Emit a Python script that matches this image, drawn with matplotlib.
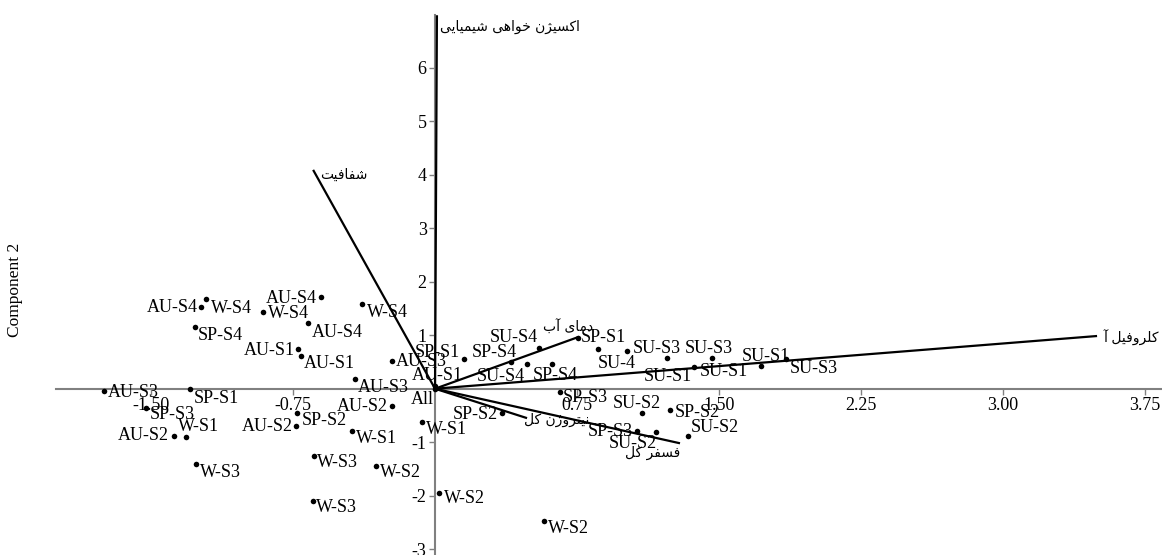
import matplotlib
matplotlib.use('Agg')
import matplotlib.pyplot as plt

plt.rcParams['font.family'] = ['Liberation Serif', 'DejaVu Sans']
plt.rcParams['axes.unicode_minus'] = False

# variable loadings (arrows)
var_names = ['اکسیژن خواهی شیمیایی', 'شفافیت', 'دمای آب', 'کلروفیل آ', 'نیتروژن کل', 'فسفر کل']
var_x = [0.01, -0.644, 0.76, 3.497, 0.486, 1.294]
var_y = [6.98, 4.09, 0.97, 0.985, -0.55, -1.02]

# sample scores
sample_labels = ['AU-S4', 'W-S4', 'SP-S4', 'AU-S3', 'SP-S1', 'SP-S3', 'AU-S2', 'W-S1', 'W-S3',
                 'AU-S4', 'W-S4', 'W-S4', 'AU-S4', 'AU-S1', 'AU-S1', 'AU-S3', 'AU-S3', 'AU-S2',
                 'SP-S2', 'AU-S2', 'W-S1', 'W-S3', 'W-S2', 'W-S3', 'W-S1', 'W-S2', 'All', 'AU-S1',
                 'SP-S1', 'SP-S4', 'SU-S4', 'SP-S4', 'SU-S4', 'SP-S3', 'SP-S2', 'W-S2', 'SP-S1',
                 'SU-4', 'SU-S3', 'SU-S3', 'SU-S1', 'SU-S1', 'SU-S1', 'SU-S3', 'SU-S2', 'SP-S2',
                 'SU-S2', 'SP-S3', 'SU-S2']
sample_x = [-1.238, -1.211, -1.268, -1.747, -1.293, -1.527, -1.379, -1.317, -1.263,
            -0.604, -0.907, -0.384, -0.672, -0.722, -0.708, -0.226, -0.423, -0.229,
            -0.731, -0.734, -0.440, -0.639, -0.313, -0.646, -0.069, 0.023, 0.0, 0.0,
            0.153, 0.401, 0.484, 0.616, 0.549, 0.660, 0.352, 0.577, 0.755,
            0.863, 1.016, 1.224, 1.368, 1.462, 1.721, 1.854, 1.092, 1.241,
            1.338, 1.066, 1.167]
sample_y = [1.52, 1.67, 1.15, -0.04, -0.01, -0.36, -0.88, -0.90, -1.41,
            1.71, 1.43, 1.58, 1.22, 0.74, 0.61, 0.52, 0.18, -0.32,
            -0.46, -0.69, -0.79, -1.25, -1.44, -2.09, -0.62, -1.94, 0.0, 0.05,
            0.55, 0.49, 0.47, 0.47, 0.77, -0.06, -0.45, -2.47, 0.95,
            0.74, 0.70, 0.57, 0.41, 0.57, 0.42, 0.55, -0.46, -0.40,
            -0.88, -0.79, -0.81]

xticks = [-1.50, -0.75, 0.75, 1.50, 2.25, 3.00, 3.75]
yticks = [-3, -2, -1, 1, 2, 3, 4, 5, 6]

# label placement, in pixels (dx right, dy down, alignment)
sample_offsets = [(-3, 0, 'right'), (5, 9, 'left'), (3, 8, 'left'), (4, 2, 'left'), (3, 9, 'left'),
                  (4, 7, 'left'), (-5, 0, 'right'), (-8, -10, 'left'), (4, 8, 'left'),
                  (-4, 1, 'right'), (5, 1, 'left'), (5, 8, 'left'), (4, 9, 'left'), (-3, 1, 'right'),
                  (3, 7, 'left'), (4, 1, 'left'), (3, 8, 'left'), (-4, 1, 'right'),
                  (5, 7, 'left'), (-3, 1, 'right'), (4, 8, 'left'), (3, 7, 'left'), (4, 7, 'left'),
                  (3, 7, 'left'), (4, 8, 'left'), (5, 6, 'left'), (-1, 11, 'right'), (-23, -11, 'left'),
                  (-4, -7, 'right'), (6, -10, 'right'), (-2, 13, 'right'), (-19, 12, 'left'),
                  (-1, -10, 'right'), (3, 6, 'left'), (-4, 2, 'right'), (4, 8, 'left'), (3, 0, 'left'),
                  (-1, 14, 'left'), (5, -3, 'left'), (18, -10, 'left'), (-2, 10, 'right'),
                  (-12, 13, 'left'), (-19, -10, 'left'), (4, 9, 'left'), (-29, -10, 'left'),
                  (5, 2, 'left'), (2, -8, 'left'), (-4, 1, 'right'), (1, 11, 'right')]
var_offsets = [(3, 12, 'left'), (7, 5, 'left'), (-11, -10, 'center'), (6, 2, 'left'),
               (-3, 2, 'left'), (0, 10, 'right')]

# presentation forms: isolated, final, (initial, medial)
FORMS = {
    'ا': ('\uFE8D', '\uFE8E'), 'آ': ('\uFE81', '\uFE82'), 'د': ('\uFEA9', '\uFEAA'),
    'ر': ('\uFEAD', '\uFEAE'), 'ژ': ('\uFB8A', '\uFB8B'), 'و': ('\uFEED', '\uFEEE'),
    'ک': ('\uFB8E', '\uFB8F', '\uFB90', '\uFB91'), 'س': ('\uFEB1', '\uFEB2', '\uFEB3', '\uFEB4'),
    'ش': ('\uFEB5', '\uFEB6', '\uFEB7', '\uFEB8'), 'ی': ('\uFBFC', '\uFBFD', '\uFBFE', '\uFBFF'),
    'ن': ('\uFEE5', '\uFEE6', '\uFEE7', '\uFEE8'), 'خ': ('\uFEA5', '\uFEA6', '\uFEA7', '\uFEA8'),
    'ه': ('\uFEE9', '\uFEEA', '\uFEEB', '\uFEEC'), 'م': ('\uFEE1', '\uFEE2', '\uFEE3', '\uFEE4'),
    'ف': ('\uFED1', '\uFED2', '\uFED3', '\uFED4'), 'ت': ('\uFE95', '\uFE96', '\uFE97', '\uFE98'),
    'ل': ('\uFEDD', '\uFEDE', '\uFEDF', '\uFEE0'),
}


def shape_fa(text):
    # matplotlib has no bidi / joining, so do it by hand
    text = text.replace('\u0643', '\u06a9').replace('\u064a', '\u06cc')
    out = []
    for i, ch in enumerate(text):
        if ch not in FORMS:
            out.append(ch)
            continue
        prev = text[i - 1] if i > 0 else ''
        nxt = text[i + 1] if i + 1 < len(text) else ''
        join_prev = prev in FORMS and len(FORMS[prev]) == 4
        join_next = len(FORMS[ch]) == 4 and nxt in FORMS
        f = FORMS[ch]
        if join_prev and join_next:
            out.append(f[3])
        elif join_prev:
            out.append(f[1])
        elif join_next:
            out.append(f[2])
        else:
            out.append(f[0])
    return ''.join(reversed(out))


PX = 72.0 / 100  # pixel -> points

fig = plt.figure(figsize=(11.62, 5.55), dpi=100)
ax = fig.add_axes([0, 0, 1, 1])
ax.set_xlim(-2.298, 3.840)
ax.set_ylim(-3.108, 7.265)
ax.patch.set_visible(False)

for side in ['top', 'right']:
    ax.spines[side].set_visible(False)
ax.spines['left'].set_position(('data', 0))
ax.spines['bottom'].set_position(('data', 0))
ax.spines['bottom'].set_bounds(-2.0, 3.84)
ax.spines['left'].set_bounds(-3.2, 6.98)
for side in ['left', 'bottom']:
    ax.spines[side].set_color('#808080')
    ax.spines[side].set_linewidth(1.5)

ax.set_xticks(xticks)
ax.set_xticklabels(['%.2f' % v for v in xticks])
ax.set_yticks(yticks)
ax.set_yticklabels([str(v) for v in yticks])
ax.tick_params(direction='out', length=4, width=1, color='#808080', labelsize=13, pad=2)

for name, x, y, (dx, dy, ha) in zip(var_names, var_x, var_y, var_offsets):
    ax.plot([0, x], [0, y], color='black', lw=1.6, zorder=3, solid_capstyle='butt')
    ax.annotate(shape_fa(name), (x, y), xytext=(dx * PX, -dy * PX), textcoords='offset points',
                ha=ha, va='center', fontsize=10, family=['DejaVu Sans'], zorder=4)

ax.scatter(sample_x, sample_y, s=16, color='black', zorder=5, linewidths=0)
for lab, x, y, (dx, dy, ha) in zip(sample_labels, sample_x, sample_y, sample_offsets):
    ax.annotate(lab, (x, y), xytext=(dx * PX, -dy * PX), textcoords='offset points',
                ha=ha, va='center', fontsize=13, zorder=6)

fig.text(0.013, 1 - 290 / 555, 'Component 2', rotation=90, ha='center', va='center', fontsize=12.5)

fig.savefig('out.png', dpi=100)
